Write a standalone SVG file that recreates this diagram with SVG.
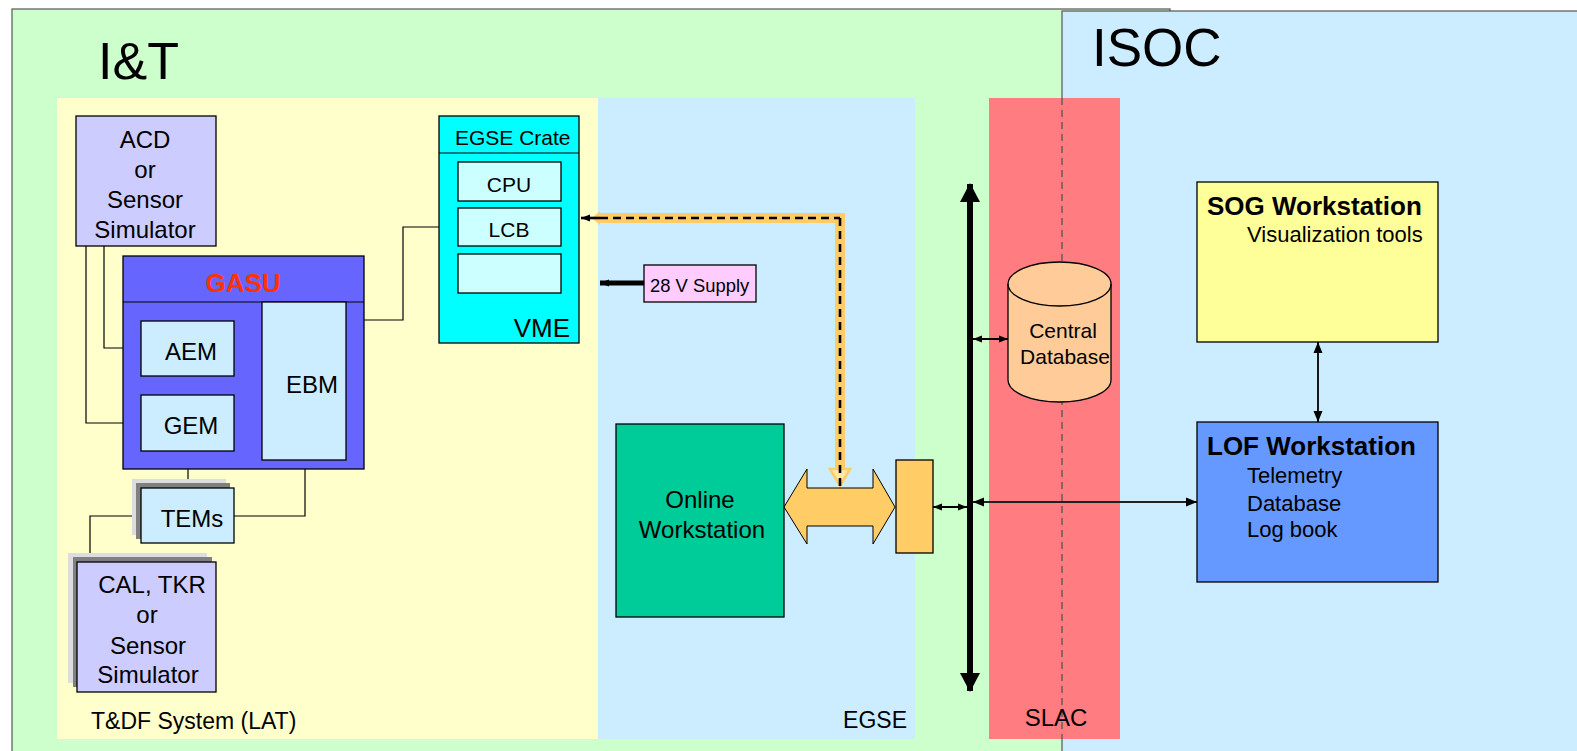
<svg xmlns="http://www.w3.org/2000/svg" width="1577" height="751" viewBox="0 0 1577 751">
<style>
text{font-family:"Liberation Sans",Arial,sans-serif;fill:#000}
.box{stroke:#000;stroke-width:1.3}
.ln{stroke:#000;stroke-width:1.2;fill:none}
.c{text-anchor:middle}
.f24{font-size:24px}
.f22{font-size:22px}
.f21{font-size:21px}
</style>
<defs>
<marker id="ah" markerUnits="userSpaceOnUse" markerWidth="12" markerHeight="10" refX="11" refY="5" orient="auto-start-reverse">
<path d="M0,0.5 L11,5 L0,9.5 z" fill="#000"/>
</marker>
<marker id="ahs" markerUnits="userSpaceOnUse" markerWidth="10" markerHeight="8" refX="9" refY="4" orient="auto-start-reverse">
<path d="M0,0.5 L9,4 L0,7.5 z" fill="#000"/>
</marker>
<marker id="bus" markerUnits="userSpaceOnUse" markerWidth="22" markerHeight="20" refX="18" refY="10" orient="auto-start-reverse">
<path d="M0,0 L19,10 L0,20 z" fill="#000"/>
</marker>
</defs>

<!-- regions -->
<g id="regions">
<rect x="12" y="9" width="1158" height="760" fill="#CCFFCC" stroke="#555" stroke-width="1.2"/>
<rect x="1062" y="11" width="530" height="760" fill="#CCECFF" stroke="#555" stroke-width="1.2"/>
<rect x="57" y="98" width="541" height="641" fill="#FFFFCC"/>
<rect x="598" y="98" width="317" height="641" fill="#CCECFF"/>
<rect x="989" y="98" width="131" height="641" fill="#FF7C80"/>
<line x1="1062" y1="98" x2="1062" y2="739" stroke="#555" stroke-width="1.3" stroke-dasharray="7,5"/>
<text x="98" y="79" style="font-size:52px">I&amp;T</text>
<text x="1092" y="66" style="font-size:53px">ISOC</text>
<text x="91" y="729" style="font-size:23px">T&amp;DF System (LAT)</text>
<text x="907" y="728" style="font-size:23px;text-anchor:end">EGSE</text>
<text x="1056" y="726" class="c" style="font-size:24px">SLAC</text>
</g>

<!-- connectors -->
<g id="connectors">
<polyline class="ln" points="86,246 86,423 141,423"/>
<polyline class="ln" points="104,246 104,348 141,348"/>
<line class="ln" x1="234" y1="348" x2="262" y2="348"/>
<line class="ln" x1="234" y1="423" x2="262" y2="423"/>
<polyline class="ln" points="346,320 403,320 403,227 458,227"/>
<line class="ln" x1="188" y1="451" x2="188" y2="488"/>
<polyline class="ln" points="305,460 305,516 234,516"/>
<polyline class="ln" points="141,516 90,516 90,562"/>
<!-- 28 V supply arrow -->
<line x1="644" y1="283" x2="600" y2="283" stroke="#000" stroke-width="5" marker-end="url(#ahs)"/>
<!-- orange path -->
<polyline points="598,218 840,218 840,470" fill="none" stroke="#FFCC66" stroke-width="10"/>
<polygon points="592,218 600,211 600,225" fill="#FFCC66"/>
<polygon points="830,469 850,469 840,486" fill="#FFE7A8" stroke="#FFCC66" stroke-width="2.5"/>
<polyline points="840,218 840,507 786,507" fill="none" stroke="#000" stroke-width="2.6" stroke-dasharray="8,5"/>
<line x1="600" y1="218" x2="840" y2="218" stroke="#000" stroke-width="2.6" stroke-dasharray="8,5"/>
<line x1="600" y1="218" x2="581" y2="218" stroke="#000" stroke-width="2.6" marker-end="url(#ahs)"/>
<line x1="795" y1="507" x2="785" y2="507" stroke="#000" stroke-width="2.6" marker-end="url(#ahs)"/>
<!-- big double arrow -->
<polygon points="784,507 807,469 807,488 873,488 873,469 895,507 873,544 873,526 807,526 807,544" fill="#FFCC66" stroke="#000" stroke-width="1"/>
<!-- small box to bus -->
<line x1="933" y1="507" x2="967" y2="507" stroke="#000" stroke-width="2" marker-start="url(#ahs)" marker-end="url(#ahs)"/>
<!-- bus -->
<line x1="970" y1="184" x2="970" y2="691" stroke="#000" stroke-width="6" marker-start="url(#bus)" marker-end="url(#bus)"/>
<!-- bus to DB -->
<line x1="973" y1="339" x2="1008" y2="339" stroke="#000" stroke-width="2" marker-start="url(#ahs)" marker-end="url(#ahs)"/>
<!-- bus to LOF -->
<line x1="973" y1="502" x2="1197" y2="502" stroke="#222" stroke-width="1.8" marker-start="url(#ah)" marker-end="url(#ah)"/>
<!-- SOG to LOF -->
<line x1="1318" y1="342" x2="1318" y2="422" stroke="#000" stroke-width="1.8" marker-start="url(#ah)" marker-end="url(#ah)"/>
</g>

<g id="acd">
<rect class="box" x="76" y="116" width="140" height="130" fill="#CCCCFF"/>
<text class="c f24" x="145" y="148">ACD</text>
<text class="c f24" x="145" y="178">or</text>
<text class="c f24" x="145" y="208">Sensor</text>
<text class="c f24" x="145" y="238">Simulator</text>
</g>

<g id="gasu">
<rect class="box" x="123" y="256" width="241" height="213" fill="#6666FF"/>
<line class="ln" x1="123" y1="302" x2="364" y2="302"/>
<text class="c" x="243" y="292" style="font-size:26px;font-weight:bold;fill:#FF3300">GASU</text>
</g>

<g id="aem">
<rect class="box" x="141" y="321" width="93" height="55" fill="#CCECFF"/>
<text class="c f24" x="191" y="360">AEM</text>
</g>
<g id="gem">
<rect class="box" x="141" y="395" width="93" height="56" fill="#CCECFF"/>
<text class="c f24" x="191" y="434">GEM</text>
</g>
<g id="ebm">
<rect class="box" x="262" y="302" width="84" height="158" fill="#CCECFF"/>
<text class="c f24" x="312" y="393">EBM</text>
</g>

<g id="tems">
<rect x="132" y="479" width="94" height="56" fill="#DDDDDD"/>
<rect x="136" y="483" width="94" height="56" fill="#808080"/>
<rect class="box" x="141" y="488" width="93" height="55" fill="#CCECFF"/>
<text class="c f24" x="192" y="527">TEMs</text>
</g>

<g id="cal">
<rect x="68" y="553" width="139" height="130" fill="#DDDDDD"/>
<rect x="73" y="557" width="139" height="130" fill="#808080"/>
<rect class="box" x="77" y="562" width="139" height="130" fill="#CCCCFF"/>
<text class="c f24" x="152" y="593">CAL, TKR</text>
<text class="c f24" x="147" y="623">or</text>
<text class="c f24" x="148" y="654">Sensor</text>
<text class="c f24" x="148" y="683">Simulator</text>
</g>

<g id="crate">
<rect class="box" x="439" y="116" width="140" height="227" fill="#00FFFF"/>
<line class="ln" x1="439" y1="153" x2="579" y2="153"/>
<text x="455" y="145" style="font-size:21px">EGSE Crate</text>
<text x="570" y="337" style="font-size:26px;text-anchor:end">VME</text>
</g>
<g id="cpu">
<rect class="box" x="458" y="162" width="103" height="39" fill="#CCFFFF"/>
<text class="c f21" x="509" y="192">CPU</text>
</g>
<g id="lcb">
<rect class="box" x="458" y="208" width="103" height="38" fill="#CCFFFF"/>
<text class="c f21" x="509" y="237">LCB</text>
</g>
<g id="slot">
<rect class="box" x="458" y="254" width="103" height="39" fill="#CCFFFF"/>
</g>

<g id="supply">
<rect class="box" x="644" y="265" width="112" height="37" fill="#FFCCFF"/>
<text x="650" y="292" style="font-size:18.4px">28 V Supply</text>
</g>

<g id="online">
<rect class="box" x="616" y="424" width="168" height="193" fill="#00CC99"/>
<text class="c f24" x="700" y="508">Online</text>
<text class="c f24" x="702" y="538">Workstation</text>
</g>

<g id="router">
<rect class="box" x="896" y="460" width="37" height="93" fill="#FFCC66"/>
</g>

<g id="centraldb">
<path d="M1008,284 L1008,380 A51.5,22 0 0 0 1111,380 L1111,284 A51.5,22 0 0 0 1008,284 Z" fill="#FFCC99" stroke="#000" stroke-width="1.3"/>
<path d="M1008,284 A51.5,22 0 0 0 1111,284" fill="none" stroke="#000" stroke-width="1.3"/>
<text class="c f21" x="1063" y="338">Central</text>
<text class="c f21" x="1065" y="364">Database</text>
</g>

<g id="sog">
<rect class="box" x="1197" y="182" width="241" height="160" fill="#FFFF99"/>
<text x="1207" y="215" style="font-size:26px;font-weight:bold">SOG Workstation</text>
<text x="1247" y="242" style="font-size:22px">Visualization tools</text>
</g>

<g id="lof">
<rect class="box" x="1197" y="422" width="241" height="160" fill="#6699FF"/>
<text x="1207" y="455" style="font-size:26px;font-weight:bold">LOF Workstation</text>
<text x="1247" y="483" style="font-size:22px">Telemetry</text>
<text x="1247" y="511" style="font-size:22px">Database</text>
<text x="1247" y="537" style="font-size:22px">Log book</text>
</g>
</svg>
